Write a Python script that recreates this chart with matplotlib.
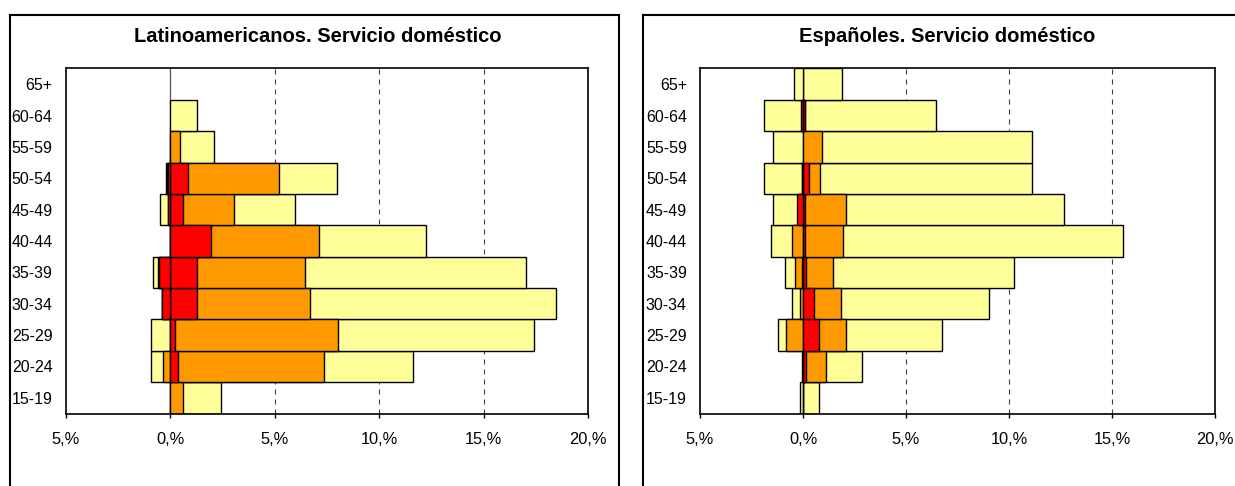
"""Pirámides de servicio doméstico: latinoamericanos vs españoles"""
import matplotlib
matplotlib.use('Agg')
import matplotlib.pyplot as plt
from matplotlib.lines import Line2D
import numpy as np

plt.rcParams['font.family'] = ['Liberation Sans', 'DejaVu Sans']

# grupos de edad (de abajo a arriba)
edades = ['15-19', '20-24', '25-29', '30-34', '35-39', '40-44',
          '45-49', '50-54', '55-59', '60-64', '65+']

# Latinoamericanos (% ; lado derecho positivo, lado izquierdo negativo)
lat_amarillo_pos = [2.44, 11.61, 17.40, 18.45, 17.05, 12.23, 5.97, 7.97, 2.08, 1.27, 0.0]
lat_naranja_pos = [0.60, 7.37, 8.03, 6.69, 6.46, 7.12, 3.05, 5.23, 0.49, 0.0, 0.0]
lat_rojo_pos = [0.0, 0.36, 0.25, 1.29, 1.29, 1.97, 0.60, 0.85, 0.0, 0.0, 0.0]
lat_amarillo_neg = [0.0, -0.91, -0.91, -0.37, -0.80, 0.0, -0.48, -0.20, 0.0, 0.0, 0.0]
lat_naranja_neg = [0.0, -0.32, 0.0, -0.37, -0.57, 0.0, -0.12, -0.15, 0.0, 0.0, 0.0]
lat_rojo_neg = [0.0, 0.0, 0.0, -0.37, -0.54, 0.0, -0.11, -0.11, 0.0, 0.0, 0.0]

# Españoles
esp_amarillo_pos = [0.79, 2.88, 6.73, 9.05, 10.23, 15.53, 12.68, 11.14, 11.14, 6.46, 1.91]
esp_naranja_pos = [0.0, 1.10, 2.09, 1.83, 1.44, 1.96, 2.09, 0.84, 0.90, 0.12, 0.0]
esp_rojo_pos = [0.02, 0.13, 0.79, 0.53, 0.15, 0.10, 0.10, 0.31, 0.0, 0.10, 0.0]
esp_amarillo_neg = [-0.15, 0.0, -1.20, -0.52, -0.87, -1.55, -1.44, -1.88, -1.44, -1.88, -0.45]
esp_naranja_neg = [0.0, 0.0, -0.81, -0.15, -0.39, -0.55, -0.20, -0.06, 0.0, -0.05, 0.0]
esp_rojo_neg = [0.0, -0.03, 0.0, 0.0, -0.06, 0.0, -0.27, -0.06, 0.0, -0.10, 0.0]

xticks = [-5, 0, 5, 10, 15, 20]
xticklabels = ['5,%', '0,%', '5,%', '10,%', '15,%', '20,%']

COL_AMARILLO = '#FFFF99'
COL_NARANJA = '#FF9900'
COL_ROJO = '#FF0000'

W, H = 1235, 486


def _piramide(ax, capas):
    y = np.arange(len(edades))
    ax.axvline(0, color='#505050', linewidth=0.9, zorder=1)
    for x in (5, 10, 15):
        ax.axvline(x, color='#404040', linewidth=0.8, dashes=(4.5, 4.5), zorder=1)
    for valores, color in capas:
        v = np.asarray(valores)
        m = v != 0  # sin barras de ancho cero
        ax.barh(y[m], v[m], height=1.0, color=color, edgecolor='black',
                linewidth=1.0, zorder=2)
    ax.set_xlim(-5, 20)
    ax.set_ylim(-0.5, len(edades) - 0.5)
    ax.set_xticks(xticks)
    ax.set_xticklabels(xticklabels)
    ax.set_yticks(y)
    ax.set_yticklabels(edades)
    ax.tick_params(axis='x', direction='out', length=3, width=1, pad=10.5, labelsize=11.8)
    ax.tick_params(axis='y', length=0, pad=9.4, labelsize=11.5)
    for s in ax.spines.values():
        s.set_linewidth(1.2)
        s.set_color('black')
        s.set_zorder(3)


fig = plt.figure(figsize=(W / 100, H / 100), dpi=100)

ax1 = fig.add_axes([65.7 / W, 1 - 413.5 / H, (588 - 65.7) / W, (413.5 - 68.5) / H])
ax2 = fig.add_axes([700 / W, 1 - 413.5 / H, (1215 - 700) / W, (413.5 - 68.5) / H])

_piramide(ax1, [(lat_amarillo_pos, COL_AMARILLO), (lat_amarillo_neg, COL_AMARILLO),
                (lat_naranja_pos, COL_NARANJA), (lat_naranja_neg, COL_NARANJA),
                (lat_rojo_pos, COL_ROJO), (lat_rojo_neg, COL_ROJO)])
_piramide(ax2, [(esp_amarillo_pos, COL_AMARILLO), (esp_amarillo_neg, COL_AMARILLO),
                (esp_naranja_pos, COL_NARANJA), (esp_naranja_neg, COL_NARANJA),
                (esp_rojo_pos, COL_ROJO), (esp_rojo_neg, COL_ROJO)])

# títulos
fig.text(318 / W, 1 - 41.7 / H, 'Latinoamericanos. Servicio doméstico',
         ha='center', va='baseline', fontsize=14.5, fontweight='bold')
fig.text(947 / W, 1 - 41.7 / H, 'Españoles. Servicio doméstico',
         ha='center', va='baseline', fontsize=14.5, fontweight='bold')


# marcos de los gráficos (se cortan por abajo)
def _marco(x0, x1, lados=(True, True)):
    yt = 1 - 15 / H
    kw = dict(transform=fig.transFigure, color='black', linewidth=1.5)
    fig.add_artist(Line2D([x0 / W, x1 / W], [yt, yt], **kw))
    if lados[0]:
        fig.add_artist(Line2D([x0 / W, x0 / W], [yt, 0], **kw))
    if lados[1]:
        fig.add_artist(Line2D([x1 / W, x1 / W], [yt, 0], **kw))


_marco(9.5, 619)
_marco(643, 1235, lados=(True, False))

fig.savefig('out.png', dpi=100)
plt.close(fig)
